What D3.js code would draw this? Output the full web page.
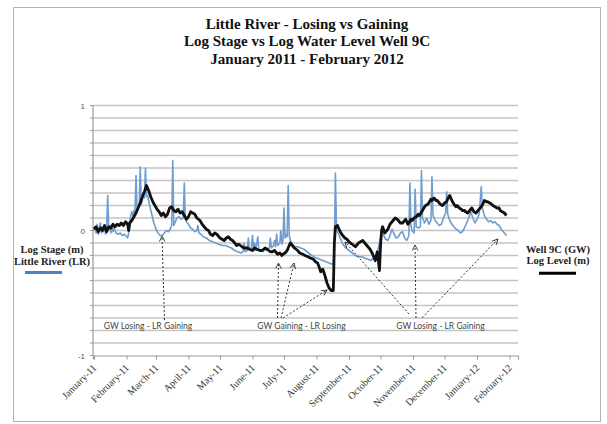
<!DOCTYPE html>
<html>
<head>
<meta charset="utf-8">
<script src="https://cdn.jsdelivr.net/npm/d3@7"></script>
<style>
  body { margin: 0; background: #fff; }
  svg { display: block; }
</style>
</head>
<body>
<svg id="chart" width="607" height="424"></svg>
<script>
// Title lines
const titleLines = [
  "Little River - Losing vs Gaining",
  "Log Stage vs Log Water Level Well 9C",
  "January 2011 - February 2012"
];

// Month axis labels (one per month start, January 2011 .. February 2012)
const monthLabels = [
  "January-11", "February-11", "March-11", "April-11", "May-11", "June-11",
  "July-11", "August-11", "September-11", "October-11", "November-11",
  "December-11", "January-12", "February-12"
];

// Y tick labels
const yTickValues = [-1, 0, 1];

// Little River log stage (m): days since 1 Jan 2011, values
const lrDays = [0,1,2,3,4,5,6,7,8,9,10,11,12,13,14,15,16,17,18,19,21,23,25,27,29,31,32,33,34,35,36,37,38,39,40,41,42,43,44,45,46,47,48,49,50,51,53,55,57,59,61,63,65,67,69,71,73,74,75,76,77,79,81,83,85,86,87,88,90,92,94,96,98,99,100,102,104,107,110,113,116,119,122,125,128,131,134,137,140,142,143,144,146,147,148,150,151,152,153,154,156,157,159,161,163,165,167,168,169,171,172,173,174,175,177,178,179,180,181,182,183,184,185,186,187,189,191,194,197,200,203,206,209,212,215,218,221,224,227,228,229,230,231,232,234,236,238,240,243,246,249,252,255,258,261,264,266,268,270,272,274,276,278,280,282,284,286,288,290,292,294,296,298,300,301,302,303,305,306,307,309,311,312,313,315,317,319,321,322,323,325,327,329,331,333,335,336,337,339,341,343,345,347,349,351,353,355,357,359,361,363,365,367,369,370,372,374,376,378,380,382,384,386,388,390,392,393];
const lrValues = [0.0,0.03,-0.02,0.05,-0.03,0.02,0.06,-0.02,0.03,-0.01,0.04,-0.03,0.02,0.28,0.01,0.04,-0.02,0.03,-0.01,0.02,-0.02,-0.03,-0.02,-0.04,-0.03,-0.05,-0.06,-0.02,0.06,0.12,0.15,0.12,0.16,0.14,0.44,0.15,0.18,0.2,0.51,0.21,0.24,0.3,0.26,0.5,0.27,0.28,0.2,0.13,0.06,0.01,-0.02,-0.04,-0.04,-0.02,0.0,-0.01,0.02,0.04,0.56,0.04,0.06,0.1,0.11,0.09,0.1,0.38,0.09,0.07,0.05,0.02,0.01,-0.01,0.0,0.04,-0.02,-0.03,-0.05,-0.06,-0.08,-0.09,-0.1,-0.11,-0.12,-0.12,-0.13,-0.14,-0.16,-0.17,-0.18,-0.17,-0.1,-0.17,-0.16,-0.06,-0.15,-0.14,-0.04,-0.15,-0.1,-0.16,-0.05,-0.15,-0.16,-0.17,-0.15,-0.16,-0.14,-0.06,-0.14,-0.12,-0.08,-0.13,-0.03,-0.12,-0.1,0.0,-0.11,-0.08,0.18,-0.06,-0.03,-0.05,0.36,-0.04,-0.08,-0.11,-0.13,-0.13,-0.14,-0.15,-0.17,-0.19,-0.21,-0.22,-0.23,-0.24,-0.25,-0.26,-0.27,-0.26,-0.15,0.46,0.02,-0.01,-0.05,-0.09,-0.12,-0.14,-0.16,-0.18,-0.2,-0.21,-0.21,-0.22,-0.23,-0.24,-0.22,-0.25,-0.17,-0.1,-0.01,-0.04,-0.07,-0.08,-0.04,0.01,-0.03,-0.06,-0.05,-0.02,-0.01,-0.06,-0.08,-0.04,0.38,0.04,0.0,-0.02,0.33,0.03,0.02,0.03,0.48,0.1,0.06,0.1,0.05,0.08,0.43,0.12,0.08,0.06,0.04,0.05,0.1,0.14,0.31,0.13,0.08,0.05,0.03,0.01,0.0,-0.02,-0.01,0.02,0.06,0.1,0.15,0.1,0.06,0.09,0.13,0.35,0.18,0.12,0.09,0.07,0.08,0.06,0.07,0.05,0.04,0.01,-0.01,-0.03,-0.04];

// Well 9C log water level (m): days since 1 Jan 2011, values
const gwDays = [0,2,4,6,8,10,12,14,16,18,20,22,24,26,28,30,32,33,34,36,38,40,42,44,46,48,50,52,54,56,58,60,62,64,66,68,70,72,74,76,78,80,82,84,86,88,90,92,94,96,98,101,103,105,107,109,111,113,115,117,120,122,124,126,128,130,132,134,136,138,141,143,146,148,151,153,155,158,160,163,165,168,170,172,175,177,179,180,182,184,186,187,189,191,194,196,199,201,204,206,209,211,213,214,216,218,220,222,224,226,228,229,230,232,234,236,239,241,243,246,249,252,254,256,258,261,263,265,268,269,270,272,273,274,275,277,280,282,284,287,289,290,292,294,296,297,299,300,302,303,305,307,309,310,313,315,316,318,319,321,322,324,326,327,329,330,332,334,336,338,339,341,343,345,346,348,350,351,353,354,356,358,360,362,364,365,367,369,371,372,374,375,377,379,380,382,384,386,387,389,391,392,393];
const gwValues = [0.01,0.03,-0.01,0.02,0.0,0.04,-0.01,0.03,0.02,0.05,0.03,0.05,0.04,0.06,0.04,0.07,0.05,0.0,0.06,0.08,0.11,0.14,0.18,0.22,0.27,0.31,0.36,0.32,0.27,0.23,0.2,0.17,0.15,0.12,0.14,0.11,0.13,0.18,0.19,0.16,0.15,0.17,0.14,0.15,0.12,0.09,0.11,0.15,0.14,0.13,0.1,0.08,0.05,0.03,0.01,0.0,-0.03,-0.04,-0.02,-0.03,-0.06,-0.07,-0.08,-0.06,-0.05,-0.07,-0.08,-0.1,-0.12,-0.11,-0.13,-0.14,-0.14,-0.15,-0.16,-0.14,-0.15,-0.16,-0.16,-0.14,-0.15,-0.17,-0.17,-0.16,-0.19,-0.18,-0.2,-0.19,-0.18,-0.16,-0.12,-0.1,-0.12,-0.14,-0.16,-0.18,-0.19,-0.2,-0.21,-0.22,-0.23,-0.25,-0.26,-0.28,-0.33,-0.31,-0.36,-0.42,-0.46,-0.48,-0.48,-0.1,0.03,0.04,0.0,-0.03,-0.06,-0.07,-0.09,-0.11,-0.13,-0.1,-0.09,-0.08,-0.1,-0.13,-0.15,-0.18,-0.24,-0.2,-0.17,-0.32,-0.12,0.0,0.03,-0.02,0.01,0.05,0.07,0.1,0.09,0.08,0.06,0.06,0.08,0.09,0.05,0.06,0.09,0.08,0.1,0.11,0.13,0.12,0.16,0.19,0.2,0.21,0.22,0.25,0.24,0.26,0.24,0.24,0.22,0.21,0.2,0.22,0.23,0.27,0.28,0.24,0.21,0.19,0.2,0.18,0.17,0.16,0.16,0.15,0.14,0.16,0.18,0.15,0.14,0.15,0.17,0.19,0.22,0.24,0.23,0.23,0.22,0.21,0.2,0.19,0.18,0.18,0.16,0.15,0.14,0.13,0.12];

// Annotation labels
const noteLabels = ["GW Losing - LR Gaining", "GW Gaining - LR Losing", "GW Losing - LR Gaining"];

const svg = d3.select("#chart");
const plot = { left: 93, right: 518, top: 105.5, bottom: 355.5 };

const day0 = Date.UTC(2011, 0, 1);
const toDate = d => new Date(day0 + d * 864e5);

const x = d3.scaleUtc()
  .domain([new Date(Date.UTC(2010, 11, 31)), new Date(Date.UTC(2012, 1, 9))])
  .range([plot.left, plot.right]);
const y = d3.scaleLinear().domain([-1, 1]).range([plot.bottom, plot.top]);

// outer frame
svg.append("rect")
  .attr("x", 13.5).attr("y", 7.5).attr("width", 587).attr("height", 414)
  .attr("fill", "#fff").attr("stroke", "#b4b4b4").attr("stroke-width", 1);

// title
svg.append("g").selectAll("text").data(titleLines).join("text")
  .attr("x", 307).attr("y", (d, i) => 29 + i * 17.4)
  .attr("text-anchor", "middle")
  .attr("font-family", "'Liberation Serif', 'Times New Roman', serif")
  .attr("font-weight", "bold").attr("font-size", 15).attr("fill", "#111")
  .text(d => d);

// horizontal gridlines every 0.1
const gridVals = d3.range(-9, 11).map(v => v / 10);
svg.append("g").selectAll("line").data(gridVals).join("line")
  .attr("x1", plot.left).attr("x2", plot.right)
  .attr("y1", d => y(d)).attr("y2", d => y(d))
  .attr("stroke", "#c4c4c4").attr("stroke-width", 1.3);

// y axis
const yAxisG = svg.append("g");
yAxisG.append("line")
  .attr("x1", plot.left).attr("x2", plot.left)
  .attr("y1", plot.top).attr("y2", plot.bottom)
  .attr("stroke", "#9a9a9a").attr("stroke-width", 1.2);
yAxisG.selectAll("line.tk").data(d3.range(-10, 11).map(v => v / 10)).join("line")
  .attr("class", "tk")
  .attr("x1", plot.left - 3).attr("x2", plot.left)
  .attr("y1", d => y(d)).attr("y2", d => y(d))
  .attr("stroke", "#9a9a9a");
yAxisG.selectAll("text").data(yTickValues).join("text")
  .attr("x", plot.left - 8).attr("y", d => y(d) + 3)
  .attr("text-anchor", "end")
  .attr("font-family", "'Liberation Sans', Arial, sans-serif")
  .attr("font-size", 8).attr("fill", "#555")
  .text(d => d);

// x axis
const monthStarts = d3.utcMonth.range(new Date(Date.UTC(2011, 0, 1)), new Date(Date.UTC(2012, 1, 2)));
const xAxisG = svg.append("g").attr("transform", `translate(0,${plot.bottom})`)
  .call(d3.axisBottom(x).tickValues(monthStarts).tickSize(4).tickFormat(""));
xAxisG.select(".domain").attr("stroke", "#9a9a9a").attr("stroke-width", 1.2);
xAxisG.selectAll(".tick line").attr("stroke", "#9a9a9a");
svg.append("g").selectAll("text").data(monthStarts).join("text")
  .attr("transform", d => `translate(${x(d) + 3},${plot.bottom + 13}) rotate(-45)`)
  .attr("text-anchor", "end")
  .attr("font-family", "'Liberation Serif', 'Times New Roman', serif")
  .attr("font-size", 10).attr("fill", "#333")
  .text((d, i) => monthLabels[i]);

// series
const lrData = lrDays.map((d, i) => ({ date: toDate(d), v: lrValues[i] }));
const gwData = gwDays.map((d, i) => ({ date: toDate(d), v: gwValues[i] }));
const line = d3.line().x(d => x(d.date)).y(d => y(d.v));

svg.append("path").datum(lrData)
  .attr("d", line).attr("fill", "none")
  .attr("stroke", "#6f9dd0").attr("stroke-width", 1.6)
  .attr("stroke-linejoin", "round");
svg.append("path").datum(gwData)
  .attr("d", line).attr("fill", "none")
  .attr("stroke", "#111").attr("stroke-width", 2.8)
  .attr("stroke-linejoin", "round");

// annotations: dashed arrows pointing to the lines
const defs = svg.append("defs");
defs.append("marker").attr("id", "openArrow")
  .attr("viewBox", "0 0 10 10").attr("refX", 9).attr("refY", 5)
  .attr("markerWidth", 7).attr("markerHeight", 7)
  .attr("orient", "auto-start-reverse").attr("markerUnits", "userSpaceOnUse")
  .append("path").attr("d", "M1,1 L9,5 L1,9")
  .attr("fill", "none").attr("stroke", "#333").attr("stroke-width", 1.3);

const arrows = [
  [164.5, 320, 162, 236],
  [277.5, 318, 278.5, 263],
  [281, 318, 294, 263],
  [283, 318, 327, 290],
  [409, 314, 345, 242],
  [416, 318, 415, 245],
  [422, 318, 498, 239]
];
svg.append("g").selectAll("line").data(arrows).join("line")
  .attr("x1", d => d[0]).attr("y1", d => d[1])
  .attr("x2", d => d[2]).attr("y2", d => d[3])
  .attr("stroke", "#333").attr("stroke-width", 1)
  .attr("stroke-dasharray", "2,2")
  .attr("marker-end", "url(#openArrow)");

const noteX = [148, 301.5, 440.5];
svg.append("g").selectAll("text").data(noteLabels).join("text")
  .attr("x", (d, i) => noteX[i]).attr("y", 329)
  .attr("text-anchor", "middle")
  .attr("font-family", "Lato, 'Open Sans', sans-serif")
  .attr("font-size", 8.5).attr("fill", "#444")
  .text(d => d);

// legends
const legendFont = "'Liberation Serif', 'Times New Roman', serif";
const leftLegend = svg.append("g");
leftLegend.selectAll("text").data(["Log Stage (m)", "Little River (LR)"]).join("text")
  .attr("x", 52).attr("y", (d, i) => 253 + i * 12)
  .attr("text-anchor", "middle").attr("font-family", legendFont)
  .attr("font-weight", "bold").attr("font-size", 10.5).attr("fill", "#222")
  .text(d => d);
leftLegend.append("line")
  .attr("x1", 25).attr("x2", 62).attr("y1", 272.5).attr("y2", 272.5)
  .attr("stroke", "#4f81bd").attr("stroke-width", 3);

const rightLegend = svg.append("g");
rightLegend.selectAll("text").data(["Well 9C (GW)", "Log Level (m)"]).join("text")
  .attr("x", 558).attr("y", (d, i) => 253 + i * 10.5)
  .attr("text-anchor", "middle").attr("font-family", legendFont)
  .attr("font-weight", "bold").attr("font-size", 10.5).attr("fill", "#222")
  .text(d => d);
rightLegend.append("line")
  .attr("x1", 539).attr("x2", 576).attr("y1", 273.3).attr("y2", 273.3)
  .attr("stroke", "#000").attr("stroke-width", 3);
</script>
</body>
</html>
